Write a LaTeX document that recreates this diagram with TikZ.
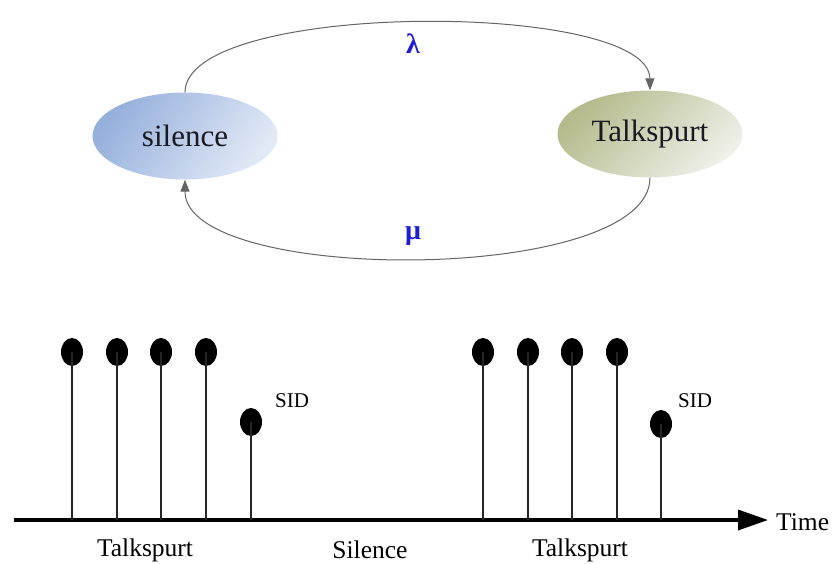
\documentclass[tikz,border=0pt]{standalone}
\usepackage{fontspec}
\setmainfont{Liberation Serif}
\usetikzlibrary{arrows.meta,shapes.geometric}
\definecolor{blueDark}{RGB}{150,176,220}
\definecolor{blueLight}{RGB}{226,233,246}
\definecolor{oliveDark}{RGB}{180,186,140}
\definecolor{oliveLight}{RGB}{238,240,233}
\definecolor{arcgray}{RGB}{100,100,100}
\definecolor{greekblue}{RGB}{30,30,215}
\definecolor{textdark}{RGB}{25,25,35}
\begin{document}
\begin{tikzpicture}[x=1pt,y=-1pt,
  state/.style={ellipse, minimum width=185pt, minimum height=87pt, inner sep=0pt, text=textdark, font=\fontsize{31}{33}\selectfont},
  arc/.style={draw=arcgray, line width=1pt, -{Triangle[length=12pt,width=9pt]}},
  greek/.style={text=greekblue, font=\bfseries\fontsize{28}{30}\selectfont},
  dot/.style={ellipse, fill=black, minimum width=22pt, minimum height=28pt, inner sep=0pt},
  stem/.style={draw=black!85, line width=1.3pt},
  lbl/.style={font=\fontsize{25.5}{27}\selectfont},
  sid/.style={font=\fontsize{21}{23}\selectfont}]
\useasboundingbox (0,0) rectangle (836,563);

% states
\node[state, top color=blueDark, bottom color=blueLight, shading angle=55] (sil) at (185,136) {silence};
\node[state, top color=oliveDark, bottom color=oliveLight, shading angle=45] (talk) at (650,134) {\raisebox{-3pt}{Talkspurt}};

\draw[arc] (sil.north) .. controls (185,0) and (649,0) .. (talk.north);
\draw[arc] (talk.south) .. controls (650,285) and (185,285) .. (sil.south);
\node[greek] (lam) at (413,44) {λ};
\node[greek] (mu) at (413,236) {μ};

% time axis
\coordinate (a0) at (14,520);
\coordinate (a1) at (768,520);
\draw[line width=3.5pt, -{Triangle[length=30pt,width=20pt]}] (a0) -- (a1);
\node[lbl, anchor=west, inner sep=0pt] (time) at (776,522) {Time};

% packets
\foreach \i/\x in {1/72,2/117,3/161,4/206,6/483,7/528,8/572,9/617} {
  \node[dot] (d\i) at (\x,352) {};
  \coordinate (b\i) at (\x,520);
  \draw[stem] (b\i) -- (d\i.center);
}
\node[dot] (d5) at (251,422) {};
\coordinate (b5) at (251,520);
\draw[stem] (b5) -- (d5.center);
\node[dot] (d10) at (661,424) {};
\coordinate (b10) at (661,520);
\draw[stem] (b10) -- (d10.center);

\node[sid] (sid1) at (292,401) {SID};
\node[sid] (sid2) at (695,401) {SID};

\node[lbl] (t1) at (145,550) {Talkspurt};
\node[lbl] (s1) at (370,550) {Silence};
\node[lbl] (t2) at (580,550) {Talkspurt};
\end{tikzpicture}
\end{document}
